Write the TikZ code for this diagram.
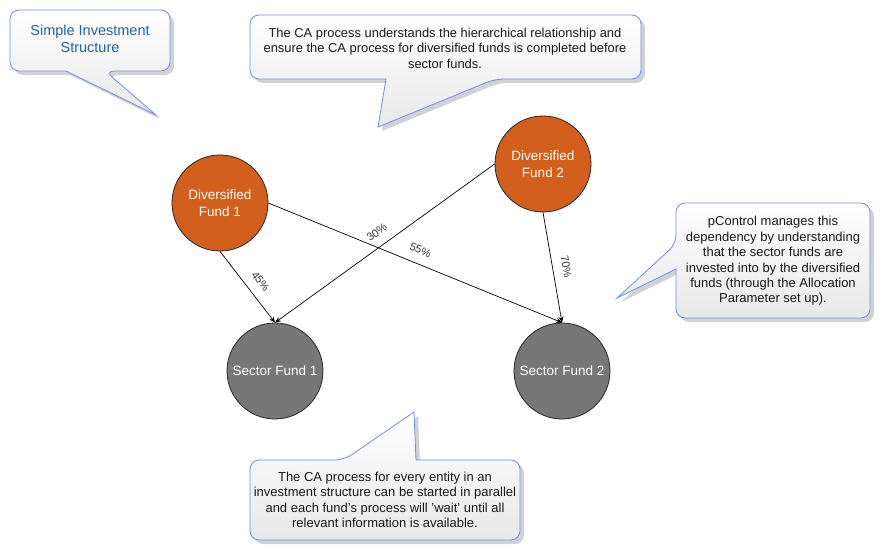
\documentclass[tikz,border=0pt]{standalone}
\usepackage{fontspec}
\setmainfont{Liberation Sans}
\usetikzlibrary{arrows.meta}
\definecolor{fundorange}{RGB}{210,96,28}
\definecolor{fundgray}{RGB}{119,119,119}
\definecolor{callborder}{RGB}{112,142,228}
\definecolor{calltitle}{RGB}{30,100,175}
\definecolor{shadowgray}{RGB}{210,210,210}
\tikzset{
  fund/.style={circle, minimum size=96pt, inner sep=0pt, draw=black!85, line width=0.8pt,
    text=white, align=center, font=\fontsize{13.5}{17}\selectfont},
  divfund/.style={fund, fill=fundorange},
  secfund/.style={fund, fill=fundgray},
  link/.style={draw=black, line width=0.7pt, -{Stealth[length=6pt,width=5pt]}},
  pct/.style={font=\fontsize{11}{13}\selectfont, text=black!80, sloped, above=7.5pt, inner sep=2pt},
  callout/.style={draw=callborder, line width=0.8pt, top color=white, bottom color=black!9},
  calloutshadow/.style={fill=shadowgray, draw=none},
  calltext/.style={align=center, text=black!90, font=\fontsize{13}{15.4}\selectfont, inner sep=0pt}
}
\begin{document}
\begin{tikzpicture}[x=1pt,y=-1pt]
\useasboundingbox (0,0) rectangle (884,554);
\fill[white] (0,0) rectangle (884,554);

% callout 1
\path[calloutshadow, shift={(4,4)}] (105,71) -- (156,115) -- (66,71) [rounded corners=9] -- (10,71) -- (10,10) -- (170,10) -- (170,71) -- cycle;
\path[callout] (105,71) -- (156,115) -- (66,71) [rounded corners=9] -- (10,71) -- (10,10) -- (170,10) -- (170,71) -- cycle;
\node[calltext, text=calltitle, font=\fontsize{14.5}{16.5}\selectfont] (t1) at (90,39) {Simple Investment\\Structure};

% callout 2
\path[calloutshadow, shift={(4,4)}] (495,79) -- (378,127) -- (386,79) [rounded corners=9] -- (250,79) -- (250,15) -- (641,15) -- (641,79) -- cycle;
\path[callout] (495,79) -- (378,127) -- (386,79) [rounded corners=9] -- (250,79) -- (250,15) -- (641,15) -- (641,79) -- cycle;
\node[calltext, font=\fontsize{12.9}{15.4}\selectfont] (t2) at (445,48) {The CA process understands the hierarchical relationship and\\ensure the CA process for diversified funds is completed before\\sector funds.};

% callout 3
\path[calloutshadow, shift={(4,4)}] (676,244) -- (617,298) -- (676,269) [rounded corners=9] -- (676,318) -- (870,318) -- (870,203) -- (676,203) -- cycle;
\path[callout] (676,244) -- (617,298) -- (676,269) [rounded corners=9] -- (676,318) -- (870,318) -- (870,203) -- (676,203) -- cycle;
\node[calltext] (t3) at (773,261) {pControl manages this\\dependency by understanding\\that the sector funds are\\invested into by the diversified\\funds (through the Allocation\\Parameter set up).};

% callout 4
\path[calloutshadow, shift={(4,4)}] (344,460) -- (414,412) -- (416,460) [rounded corners=9] -- (520,460) -- (520,540) -- (250,540) -- (250,460) -- cycle;
\path[callout] (344,460) -- (414,412) -- (416,460) [rounded corners=9] -- (520,460) -- (520,540) -- (250,540) -- (250,460) -- cycle;
\node[calltext] (t4) at (385,500) {The CA process for every entity in an\\investment structure can be started in parallel\\and each fund's process will 'wait' until all\\relevant information is available.};

% funds
\node[divfund] (df1) at (220,203) {Diversified\\Fund 1};
\node[divfund] (df2) at (543,164) {Diversified\\Fund 2};
\node[secfund] (sf1) at (275,371) {Sector Fund 1};
\node[secfund] (sf2) at (562,371) {Sector Fund 2};

% links
\draw[link] (df1.south) -- node[pct, pos=0.54] (l45) {45\%} (sf1.north);
\draw[link] (df1.east) -- node[pct, pos=0.5] (l55) {55\%} (sf2.north);
\draw[link] (df2.west) -- node[pct, pos=0.5] (l30) {30\%} (sf1.north);
\draw[link] (df2.south) -- node[pct, pos=0.51] (l70) {70\%} (sf2.north);
\end{tikzpicture}
\end{document}
